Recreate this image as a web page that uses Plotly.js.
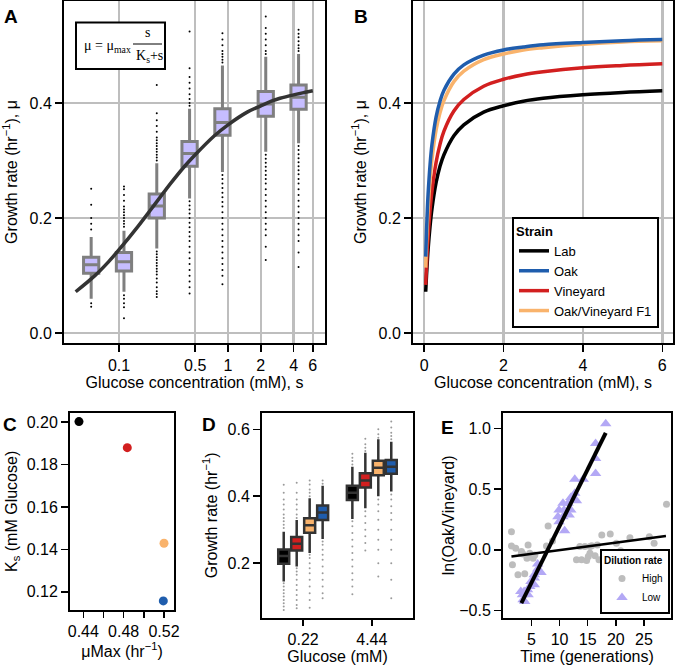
<!DOCTYPE html>
<html><head><meta charset="utf-8">
<script src="https://cdn.plot.ly/plotly-3.0.1.min.js"></script>
<style>html,body{margin:0;padding:0;background:#fff;}#chart{width:675px;height:665px;}</style>
</head><body><div id="chart"></div>
<script>
// ---------- Panel A : box plots of growth rate by glucose concentration ----------
const aConc   = [0.0555, 0.111, 0.222, 0.444, 0.889, 2.22, 4.44];
const aQ1     = [0.104, 0.108, 0.200, 0.290, 0.344, 0.377, 0.389];
const aMedian = [0.119, 0.124, 0.221, 0.312, 0.366, 0.398, 0.410];
const aQ3     = [0.132, 0.140, 0.242, 0.333, 0.390, 0.420, 0.431];
const aLower  = [0.060, 0.072, 0.147, 0.234, 0.280, 0.315, 0.330];
const aUpper  = [0.167, 0.178, 0.295, 0.390, 0.465, 0.480, 0.485];
const aOutliers = [
  [0.18, 0.19, 0.20, 0.223, 0.251, 0.052, 0.046],
  [0.185, 0.19, 0.195, 0.20, 0.205, 0.21, 0.215, 0.22, 0.23, 0.24, 0.25, 0.255, 0.066, 0.06, 0.052, 0.045, 0.026],
  [0.30, 0.305, 0.31, 0.315, 0.32, 0.325, 0.33, 0.335, 0.34, 0.35, 0.36, 0.37, 0.382, 0.431, 0.142, 0.137, 0.132, 0.127, 0.122, 0.117, 0.112, 0.107, 0.102, 0.095, 0.088, 0.08, 0.073, 0.068, 0.063],
  [0.395, 0.40, 0.407, 0.415, 0.425, 0.435, 0.445, 0.46, 0.524, 0.229, 0.222, 0.215, 0.208, 0.2, 0.192, 0.184, 0.176, 0.168, 0.16, 0.15, 0.14, 0.13, 0.12, 0.11, 0.1, 0.09, 0.08, 0.069],
  [0.47, 0.475, 0.48, 0.485, 0.49, 0.50, 0.51, 0.521, 0.275, 0.268, 0.26, 0.252, 0.244, 0.236, 0.228, 0.22, 0.21, 0.2, 0.19, 0.18, 0.17, 0.16, 0.15, 0.14, 0.13, 0.12, 0.11, 0.1, 0.085],
  [0.485, 0.49, 0.50, 0.51, 0.52, 0.53, 0.55, 0.31, 0.303, 0.296, 0.289, 0.282, 0.275, 0.268, 0.26, 0.25, 0.24, 0.23, 0.22, 0.21, 0.2, 0.19, 0.18, 0.17, 0.15, 0.127],
  [0.49, 0.495, 0.50, 0.507, 0.514, 0.52, 0.527, 0.325, 0.318, 0.311, 0.304, 0.297, 0.29, 0.283, 0.276, 0.268, 0.26, 0.25, 0.24, 0.23, 0.22, 0.21, 0.2, 0.19, 0.18, 0.17, 0.16, 0.14, 0.115]
];
const aTickVals = [0.1, 0.5, 1, 2, 4, 6];
const aTickText = ['0.1', '0.5', '1', '2', '4', '6'];

// ---------- Panel B : fitted Monod curves ----------
const sGlucose  = [0.04, 0.06, 0.08, 0.1, 0.15, 0.2, 0.3, 0.4, 0.5, 0.75, 1, 1.5, 2, 2.5, 3, 4, 5, 6];
const muLab      = [0.072, 0.100, 0.124, 0.145, 0.186, 0.217, 0.261, 0.290, 0.310, 0.343, 0.362, 0.384, 0.395, 0.403, 0.408, 0.414, 0.418, 0.421];
const muOak      = [0.133, 0.177, 0.212, 0.241, 0.293, 0.329, 0.375, 0.403, 0.422, 0.450, 0.466, 0.483, 0.492, 0.497, 0.501, 0.505, 0.508, 0.510];
const muVineyard = [0.084, 0.116, 0.144, 0.167, 0.214, 0.248, 0.296, 0.328, 0.351, 0.386, 0.406, 0.429, 0.441, 0.449, 0.454, 0.461, 0.465, 0.468];
const muF1       = [0.114, 0.154, 0.187, 0.214, 0.266, 0.303, 0.352, 0.383, 0.404, 0.437, 0.455, 0.475, 0.485, 0.492, 0.496, 0.502, 0.506, 0.508];
const strainNames  = ['Lab', 'Oak', 'Vineyard', 'Oak/Vineyard F1'];
const strainColors = ['#000000', '#1F5DAD', '#D21F1F', '#F9B36C'];

// ---------- Panel C : Monod parameters ----------
const cMuMax = [0.4357, 0.5193, 0.4836, 0.5200];   // Lab, Oak, Vineyard, F1
const cKs    = [0.2003, 0.1157, 0.1880, 0.1429];
const cMajorTicks = [0.44, 0.48, 0.52];
const cMinorTicks = [0.46, 0.50];

// ---------- Panel D : growth rate at two glucose levels ----------
const dGlucoseLabels = ['0.22', '4.44'];
const dStrains = ['Lab', 'Vineyard', 'Oak/Vineyard F1', 'Oak'];
const dQ1     = [[0.198, 0.389], [0.238, 0.426], [0.291, 0.463], [0.329, 0.467]];
const dMedian = [[0.221, 0.410], [0.258, 0.447], [0.313, 0.485], [0.351, 0.488]];
const dQ3     = [[0.241, 0.431], [0.278, 0.469], [0.334, 0.506], [0.372, 0.508]];
const dLower  = [[0.145, 0.332], [0.190, 0.364], [0.230, 0.400], [0.272, 0.414]];
const dUpper  = [[0.294, 0.488], [0.329, 0.530], [0.394, 0.570], [0.431, 0.563]];
const dOutLab = [[0.305, 0.315, 0.325, 0.335, 0.345, 0.36, 0.375, 0.39, 0.41, 0.434, 0.14, 0.13, 0.12, 0.11, 0.1, 0.09, 0.08, 0.07, 0.06],
                 [0.495, 0.505, 0.515, 0.527, 0.325, 0.31, 0.29, 0.27, 0.25, 0.23, 0.21, 0.19, 0.17, 0.15, 0.13, 0.107]];
const dOutVineyard = [[0.335, 0.345, 0.36, 0.375, 0.39, 0.41, 0.44, 0.185, 0.175, 0.165, 0.15, 0.135, 0.12, 0.105, 0.09, 0.075, 0.065],
                      [0.535, 0.545, 0.555, 0.572, 0.355, 0.34, 0.32, 0.3, 0.28, 0.26, 0.238]];
const dOutF1  = [[0.4, 0.41, 0.42, 0.435, 0.447, 0.225, 0.215, 0.2, 0.185, 0.17, 0.15, 0.13, 0.11, 0.09, 0.067],
                 [0.575, 0.585, 0.6, 0.39, 0.375, 0.355, 0.33, 0.3, 0.27, 0.24, 0.2, 0.16]];
const dOutOak = [[0.437, 0.447, 0.265, 0.255, 0.24, 0.225, 0.21, 0.19, 0.17, 0.15, 0.13, 0.11, 0.095],
                 [0.57, 0.58, 0.59, 0.605, 0.623, 0.405, 0.39, 0.37, 0.35, 0.33, 0.3, 0.27, 0.24, 0.2, 0.15, 0.095]];

// ---------- Panel E : competition assay ----------
const eHighX = [1.44, 1.44, 2.2, 3.22, 4.4, 3.5, 1.62, 2.6, 3.8, 5.29, 4.7, 7.96, 8.74, 7.67, 13.0, 13.9, 14.8, 14.5, 15.4, 16.3, 17.0, 15.4, 16.7, 17.5, 19.0, 20.1, 20.85, 22.5, 25.95, 26.8, 29.0, 13.6, 15.1, 3.2, 4.2, 5.6, 15.7];
const eHighY = [0.15, 0.033, 0.014, -0.014, 0.041, -0.033, -0.123, -0.205, -0.197, -0.068, -0.027, 0.197, 0.074, 0.033, -0.082, -0.082, -0.088, 0.027, -0.027, -0.049, -0.082, 0.027, 0.041, 0.123, 0.131, 0.055, -0.008, 0.10, 0.109, 0.055, 0.375, 0.027, -0.055, -0.027, -0.068, -0.041, 0.035];
const eLowX = [18.2, 16.4, 16.4, 16.4, 14.2, 12.7, 12.7, 12.0, 11.5, 10.6, 13.0, 12.0, 10.8, 9.9, 9.7, 10.6, 9.9, 10.9, 11.7, 6.1, 6.1, 6.7, 5.5, 5.5, 4.9, 5.5, 4.7, 4.3, 3.7, 4.4, 3.4, 3.5, 3.8, 3.1];
const eLowY = [1.038, 0.875, 0.752, 0.629, 0.58, 0.58, 0.465, 0.43, 0.383, 0.383, 0.404, 0.328, 0.328, 0.328, 0.273, 0.273, 0.232, 0.158, 0.287, -0.115, -0.158, -0.186, -0.205, -0.232, -0.26, -0.287, -0.30, -0.328, -0.342, -0.369, -0.369, -0.41, -0.424, -0.342];
const eHighFitX = [1.44, 28.9];
const eHighFitY = [-0.055, 0.115];
const eLowFitX = [3.2, 18.2];
const eLowFitY = [-0.437, 0.962];

// ================= drawing =================
const W = 675, H = 665;
const FONT = 'Liberation Sans, Arial, Helvetica, sans-serif';
const SERIF = 'Liberation Serif, Times New Roman, serif';
const fx = p => p / W;
const fy = p => 1 - p / H;
const log10 = v => Math.log10(v);
const GRID = '#BEBEBE';
const traces = [];

// A: outliers
const aOutX = [], aOutY = [];
aOutliers.forEach((arr, i) => arr.forEach(v => { aOutX.push(log10(aConc[i])); aOutY.push(v); }));
traces.push({type: 'scatter', mode: 'markers', x: aOutX, y: aOutY, xaxis: 'x', yaxis: 'y',
  marker: {size: 2, color: '#000'}, showlegend: false, hoverinfo: 'skip'});
// A: boxes
traces.push({type: 'box', orientation: 'v', x: aConc.map(log10), q1: aQ1, median: aMedian, q3: aQ3,
  lowerfence: aLower, upperfence: aUpper, width: 0.14, whiskerwidth: 0, boxpoints: false,
  line: {color: '#7F7F7F', width: 3}, fillcolor: '#C6BDFF', xaxis: 'x', yaxis: 'y', showlegend: false, hoverinfo: 'skip'});
// A: fitted curve
traces.push({type: 'scatter', mode: 'lines', x: sGlucose.map(log10), y: muLab, xaxis: 'x', yaxis: 'y',
  line: {color: '#333333', width: 3.5, shape: 'spline'}, showlegend: false, hoverinfo: 'skip'});

// B: curves (draw order Lab, Vineyard, F1, Oak; legend order Lab, Oak, Vineyard, F1)
const bSeries = [muLab, muOak, muVineyard, muF1];
[0, 2, 3, 1].forEach(i => {
  traces.push({type: 'scatter', mode: 'lines', x: sGlucose, y: bSeries[i], name: strainNames[i],
    xaxis: 'x2', yaxis: 'y2', legend: 'legend', legendrank: i + 1,
    line: {color: strainColors[i], width: 3.5, shape: 'spline'}, hoverinfo: 'skip'});
});

// C: parameter scatter
traces.push({type: 'scatter', mode: 'markers', x: cMuMax, y: cKs, xaxis: 'x3', yaxis: 'y3',
  marker: {size: 9, color: strainColors}, showlegend: false, hoverinfo: 'skip'});

// D: grouped boxes at two glucose levels
const dSlot = 0.189;
const dOut = [dOutLab, dOutVineyard, dOutF1, dOutOak];
dStrains.forEach((name, i) => {
  const col = strainColors[strainNames.indexOf(name)];
  const pos = dGlucoseLabels.map((g, gi) => gi + (i - 1.5) * dSlot);
  const ox = [], oy = [];
  dOut[i].forEach((arr, gi) => arr.forEach(v => { ox.push(pos[gi]); oy.push(v); }));
  traces.push({type: 'scatter', mode: 'markers', x: ox, y: oy, xaxis: 'x4', yaxis: 'y4',
    marker: {size: 2, color: '#9A9A9A'}, showlegend: false, hoverinfo: 'skip'});
  traces.push({type: 'box', orientation: 'v', x: pos, q1: dQ1[i], median: dMedian[i], q3: dQ3[i],
    lowerfence: dLower[i], upperfence: dUpper[i], width: 0.16, whiskerwidth: 0, boxpoints: false,
    line: {color: '#333333', width: 2.5}, fillcolor: col, name: name,
    xaxis: 'x4', yaxis: 'y4', showlegend: false, hoverinfo: 'skip'});
});

// E: competition points and fits
traces.push({type: 'scatter', mode: 'markers', x: eHighX, y: eHighY, name: 'High', xaxis: 'x5', yaxis: 'y5',
  legend: 'legend2', marker: {symbol: 'circle', size: 7, color: '#BDBDBD'}, hoverinfo: 'skip'});
traces.push({type: 'scatter', mode: 'markers', x: eLowX, y: eLowY, name: 'Low', xaxis: 'x5', yaxis: 'y5',
  legend: 'legend2', marker: {symbol: 'triangle-up', size: 10, color: '#B3A8F5'}, hoverinfo: 'skip'});
traces.push({type: 'scatter', mode: 'lines', x: eHighFitX, y: eHighFitY, xaxis: 'x5', yaxis: 'y5',
  line: {color: '#000', width: 2.5}, showlegend: false, hoverinfo: 'skip'});
traces.push({type: 'scatter', mode: 'lines', x: eLowFitX, y: eLowFitY, xaxis: 'x5', yaxis: 'y5',
  line: {color: '#000', width: 4}, showlegend: false, hoverinfo: 'skip'});

// ---------- axes ----------
function ax(extra) {
  return Object.assign({
    showline: true, mirror: true, linecolor: '#000', linewidth: 2,
    ticks: 'outside', ticklen: 7, tickwidth: 1.5, tickcolor: '#000',
    tickfont: {family: FONT, size: 16, color: '#000'},
    zeroline: false, showgrid: false, fixedrange: true, automargin: false
  }, extra);
}
const gridOpts = {showgrid: true, gridcolor: GRID, gridwidth: 2.5};
const yTitleGR = 'Growth rate (hr<sup>−1</sup>), μ';
const xTitleGC = 'Glucose concentration (mM), s';
const tfont = {family: FONT, size: 16, color: '#000'};

const layout = {
  width: W, height: H,
  margin: {l: 0, r: 0, t: 0, b: 0},
  paper_bgcolor: '#fff', plot_bgcolor: '#fff',
  font: {family: FONT, color: '#000'},
  showlegend: true,
  xaxis: ax(Object.assign({domain: [fx(64), fx(325)], anchor: 'y', range: [-1.505, 0.89],
    tickmode: 'array', tickvals: aTickVals.map(log10), ticktext: aTickText,
    title: {text: xTitleGC, font: tfont, standoff: 3}}, gridOpts)),
  yaxis: ax(Object.assign({domain: [fy(343), fy(1)], anchor: 'x', range: [-0.017, 0.577],
    tickmode: 'array', tickvals: [0, 0.2, 0.4], tickformat: '.1f',
    title: {text: yTitleGR, font: tfont, standoff: 8}}, gridOpts)),
  xaxis2: ax(Object.assign({domain: [fx(413), fx(673)], anchor: 'y2', range: [-0.28, 6.27],
    tickmode: 'array', tickvals: [0, 2, 4, 6],
    title: {text: xTitleGC, font: tfont, standoff: 3}}, gridOpts)),
  yaxis2: ax(Object.assign({domain: [fy(343), fy(1)], anchor: 'x2', range: [-0.017, 0.577],
    tickmode: 'array', tickvals: [0, 0.2, 0.4], tickformat: '.1f',
    title: {text: yTitleGR, font: tfont, standoff: 8}}, gridOpts)),
  xaxis3: ax({domain: [fx(70), fx(174)], anchor: 'y3', range: [0.4268, 0.5299], ticklen: 6,
    tickmode: 'array', tickvals: cMajorTicks, tickformat: '.2f',
    minor: {tickmode: 'array', tickvals: cMinorTicks, ticks: 'outside', ticklen: 6, tickwidth: 1.5, tickcolor: '#000', showgrid: false},
    title: {text: 'μMax (hr<sup>−1</sup>)', font: tfont, standoff: 1}}),
  yaxis3: ax({domain: [fy(610), fy(412.7)], anchor: 'x3', range: [0.1114, 0.2045],
    tickmode: 'array', tickvals: [0.12, 0.14, 0.16, 0.18, 0.20], tickformat: '.2f',
    title: {text: 'K<sub>s</sub> (mM Glucose)', font: tfont, standoff: 5}}),
  xaxis4: ax({domain: [fx(262), fx(413)], anchor: 'y4', range: [-0.6, 1.6], ticklen: 6,
    tickmode: 'array', tickvals: [0, 1], ticktext: dGlucoseLabels,
    title: {text: 'Glucose (mM)', font: tfont, standoff: 1}}),
  yaxis4: ax({domain: [fy(618), fy(412.7)], anchor: 'x4', range: [0.036, 0.6496],
    tickmode: 'array', tickvals: [0.2, 0.4, 0.6], tickformat: '.1f',
    title: {text: 'Growth rate (hr<sup>−1</sup>)', font: tfont, standoff: 6}}),
  xaxis5: ax({domain: [fx(503), fx(671)], anchor: 'y5', range: [-0.06, 29.8], ticklen: 6,
    tickmode: 'array', tickvals: [5, 10, 15, 20, 25],
    title: {text: 'Time (generations)', font: tfont, standoff: 1}}),
  yaxis5: ax({domain: [fy(618), fy(412.7)], anchor: 'x5', range: [-0.56, 1.128],
    tickmode: 'array', tickvals: [-0.5, 0, 0.5, 1.0], tickformat: '.1f',
    title: {text: 'ln(Oak/Vineyard)', font: tfont, standoff: 1}}),
  legend: {x: fx(659), y: fy(328), xanchor: 'right', yanchor: 'bottom',
    bgcolor: '#fff', bordercolor: '#000', borderwidth: 2,
    font: {family: FONT, size: 13, color: '#000'}, tracegroupgap: 0,
    title: {text: '<b>Strain</b>', font: {family: FONT, size: 13, color: '#000'}}},
  legend2: {x: fx(670), y: fy(614), xanchor: 'right', yanchor: 'bottom',
    bgcolor: '#fff', bordercolor: '#000', borderwidth: 2,
    font: {family: FONT, size: 10, color: '#000'}, tracegroupgap: 0,
    title: {text: '<b>Dilution rate</b>', font: {family: FONT, size: 10, color: '#000'}}},
  shapes: [
    {type: 'rect', xref: 'paper', yref: 'paper', x0: fx(76), x1: fx(165), y0: fy(69), y1: fy(22.5),
      line: {color: '#000', width: 2}, fillcolor: '#fff', layer: 'above'},
    {type: 'line', xref: 'paper', yref: 'paper', x0: fx(133), x1: fx(162), y0: fy(44), y1: fy(44),
      line: {color: '#000', width: 1}, layer: 'above'}
  ],
  annotations: [
    {text: '<b>A</b>', x: fx(11), y: fy(16)},
    {text: '<b>B</b>', x: fx(361), y: fy(16)},
    {text: '<b>C</b>', x: fx(10), y: fy(424)},
    {text: '<b>D</b>', x: fx(208.5), y: fy(424)},
    {text: '<b>E</b>', x: fx(447), y: fy(427)}
  ].map(a => Object.assign(a, {xref: 'paper', yref: 'paper', showarrow: false, xanchor: 'center', yanchor: 'middle',
      font: {family: FONT, size: 19, color: '#000'}})).concat([
    {text: 'μ = μ<sub>max</sub>', x: fx(81.5), y: fy(46), xanchor: 'left'},
    {text: 's', x: fx(147.5), y: fy(33), xanchor: 'center'},
    {text: 'K<sub>s</sub>+s', x: fx(149), y: fy(56), xanchor: 'center'}
  ].map(a => Object.assign(a, {xref: 'paper', yref: 'paper', showarrow: false, yanchor: 'middle',
      font: {family: SERIF, size: 14, color: '#000'}})))
};

Plotly.newPlot('chart', traces, layout, {staticPlot: true, displayModeBar: false});
</script></body></html>
